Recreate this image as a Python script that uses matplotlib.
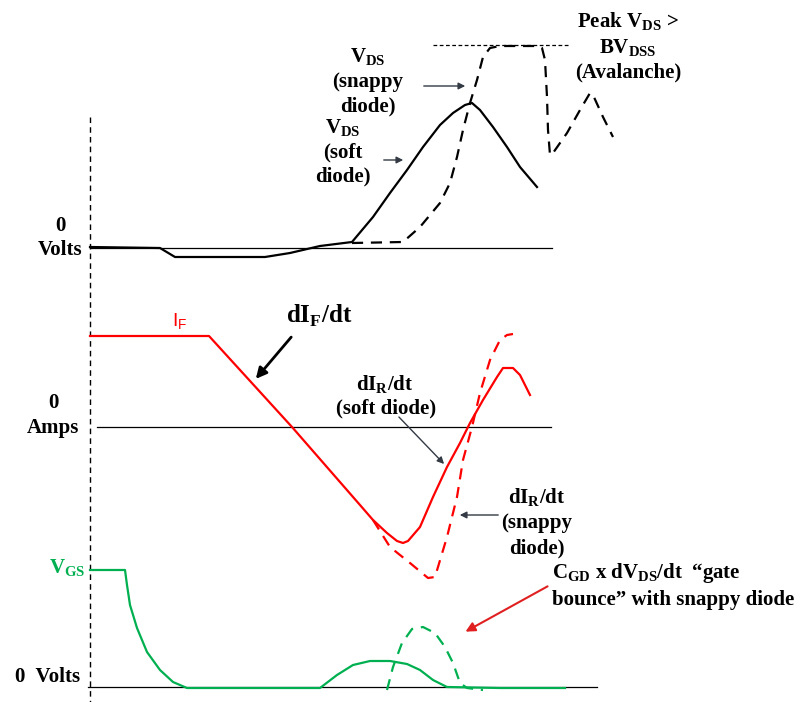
import matplotlib.pyplot as plt

plt.rcParams['mathtext.fontset'] = 'custom'
plt.rcParams['mathtext.rm'] = 'Liberation Serif:bold'
plt.rcParams['mathtext.bf'] = 'Liberation Serif:bold'
plt.rcParams['mathtext.sf'] = 'Liberation Sans'

# waveforms (pixel coords, y down)
vds_soft_t = [90, 160, 175, 265, 290, 320, 352, 373, 390, 407, 423, 440, 453, 465, 472, 480, 493, 507, 520, 537]
vds_soft_v = [247, 248, 257, 257, 253, 246, 242, 217, 193, 170, 147, 125, 113, 105, 103, 110, 127, 147, 167, 187]
vds_snap_t = [352, 403, 420, 440, 450, 457, 463, 470, 477, 483, 490, 500, 537, 542, 545, 547, 548, 550,
              553, 567, 580, 590, 593, 603, 613]
vds_snap_v = [243, 242, 227, 203, 183, 157, 130, 103, 80, 57, 48, 46, 46, 48, 60, 97, 130, 155,
              153, 133, 110, 93, 95, 117, 137]
bvdss_t = [433, 568]
bvdss_v = [45, 45]

if_soft_t = [90, 209, 292, 360, 373, 387, 397, 403, 408, 420, 433, 447, 460, 470, 483, 497, 503, 513, 520, 530]
if_soft_v = [336, 336, 427, 505, 520, 533, 541, 543, 541, 527, 497, 467, 443, 423, 400, 377, 368, 368, 375, 395]
if_snap_t = [373, 390, 410, 428, 435, 447, 457, 463, 472, 480, 490, 500, 507, 513]
if_snap_v = [520, 547, 563, 578, 577, 537, 497, 460, 427, 393, 360, 340, 335, 334]

vgs_t = [90, 125, 127, 130, 137, 147, 160, 173, 187, 320, 337, 353, 370, 390, 407, 420, 433, 447, 500, 565]
vgs_v = [570, 570, 585, 605, 628, 652, 670, 682, 688, 688, 675, 665, 661, 661, 664, 670, 680, 687, 688, 688]
vgs_snap_t = [387, 393, 402, 412, 423, 435, 445, 453, 460, 467, 483]
vgs_snap_v = [690, 667, 643, 629, 627, 633, 647, 663, 683, 688, 690]

red = '#ff0000'
green = '#00b050'
tfont = dict(family='Liberation Serif', fontweight='bold', fontsize=15)

fig = plt.figure(figsize=(8.09, 7.02), dpi=100)
ax = fig.add_axes([0, 0, 1, 1])
ax.set_xlim(0, 809)
ax.set_ylim(702, 0)
ax.axis('off')

# time reference and zero lines
ax.plot([90, 90], [117, 702], color='black', lw=1, ls=(0, (4, 3)))
ax.plot([90, 552], [248, 248], color='black', lw=0.9)
ax.plot([97, 551], [427, 427], color='black', lw=0.9)
ax.plot([88, 597], [687, 687], color='black', lw=0.9)

# VDS
ax.plot(vds_soft_t, vds_soft_v, color='black', lw=1.6)
ax.plot(vds_snap_t, vds_snap_v, color='black', lw=1.6, ls=(0, (5, 3.5)))
ax.plot(bvdss_t, bvdss_v, color='black', lw=0.9, ls=(0, (3, 2)))

# diode current
ax.plot(if_soft_t, if_soft_v, color=red, lw=1.6)
ax.plot(if_snap_t, if_snap_v, color=red, lw=1.6, ls=(0, (5, 3.5)))

# gate voltage
ax.plot(vgs_t, vgs_v, color=green, lw=1.6)
ax.plot(vgs_snap_t, vgs_snap_v, color=green, lw=1.6, ls=(0, (5, 3.5)))

# labels
ax.text(628, 22, r'Peak V$_{\mathrm{DS}}$ >', ha='center', va='center', **tfont)
ax.text(628, 48, r'BV$_{\mathrm{DSS}}$', ha='center', va='center', **tfont)
ax.text(628, 72, '(Avalanche)', ha='center', va='center', **tfont)

ax.text(368, 57, r'V$_{\mathrm{DS}}$', ha='center', va='center', **tfont)
ax.text(368, 82, '(snappy', ha='center', va='center', **tfont)
ax.text(368, 106, 'diode)', ha='center', va='center', **tfont)
ax.annotate('', xy=(468, 86), xytext=(421, 86),
            arrowprops=dict(arrowstyle='-|>', color='#333a44', lw=1, mutation_scale=10))

ax.text(343, 128, r'V$_{\mathrm{DS}}$', ha='center', va='center', **tfont)
ax.text(343, 152, '(soft', ha='center', va='center', **tfont)
ax.text(343, 176, 'diode)', ha='center', va='center', **tfont)
ax.annotate('', xy=(406, 160), xytext=(381, 160),
            arrowprops=dict(arrowstyle='-|>', color='#333a44', lw=1, mutation_scale=10))

ax.text(60, 226, '0', ha='center', va='center', **tfont)
ax.text(60, 250, 'Volts', ha='center', va='center', **tfont)

ax.text(180, 322, r'I$_{\mathsf{F}}$', ha='center', va='center', color=red,
        family='Liberation Sans', fontsize=14)
ax.text(319, 316, r'dI$_{\mathrm{F}}$/dt', ha='center', va='center',
        family='Liberation Serif', fontweight='bold', fontsize=18)
ax.annotate('', xy=(254, 381), xytext=(293, 335),
            arrowprops=dict(arrowstyle='-|>', color='black', lw=2, mutation_scale=16))

ax.text(385, 385, r'dI$_{\mathrm{R}}$/dt', ha='center', va='center', **tfont)
ax.text(386, 408, '(soft diode)', ha='center', va='center', **tfont)
ax.annotate('', xy=(446, 466), xytext=(397, 415),
            arrowprops=dict(arrowstyle='-|>', color='#333a44', lw=1, mutation_scale=10))

ax.text(537, 498, r'dI$_{\mathrm{R}}$/dt', ha='center', va='center', **tfont)
ax.text(537, 523, '(snappy', ha='center', va='center', **tfont)
ax.text(537, 548, 'diode)', ha='center', va='center', **tfont)
ax.annotate('', xy=(457, 515), xytext=(501, 515),
            arrowprops=dict(arrowstyle='-|>', color='#333a44', lw=1, mutation_scale=10))

ax.text(53, 403, '0', ha='center', va='center', **tfont)
ax.text(53, 428, 'Amps', ha='center', va='center', **tfont)

ax.text(67, 568, r'V$_{\mathrm{GS}}$', ha='center', va='center', color=green, **tfont)
ax.text(48, 677, '0  Volts', ha='center', va='center', **tfont)

ax.text(552, 573, 'C$_{\\mathrm{GD}}$ x dV$_{\\mathrm{DS}}$/dt  \u201cgate',
        ha='left', va='center', **tfont)
ax.text(552, 600, 'bounce\u201d with snappy diode', ha='left', va='center', **tfont)
ax.annotate('', xy=(463, 633), xytext=(550, 585),
            arrowprops=dict(arrowstyle='-|>', color='#e02020', lw=1.5, mutation_scale=14))

fig.savefig('out.png', dpi=100)
